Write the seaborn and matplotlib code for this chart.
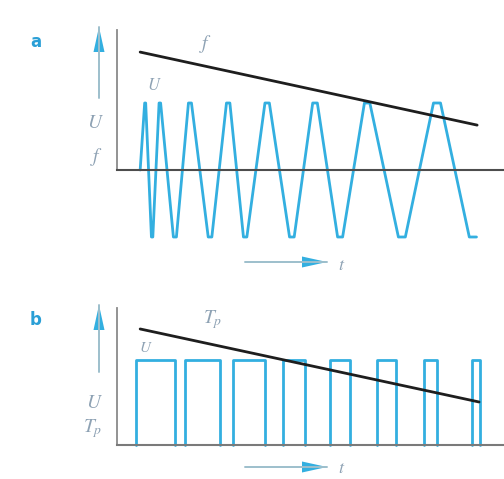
import numpy as np
import pandas as pd
import matplotlib
matplotlib.use("Agg")
import matplotlib.pyplot as plt
import seaborn as sns

sns.set_style("white")
plt.rcParams["mathtext.fontset"] = "stix"

# --- panel a: clipped triangular voltage with falling frequency ---
wave_t = [6.0, 7.3, 9.1, 11.1, 15.0, 18.9, 24.1, 28.8, 33.2, 38.9,
          45.3, 51.3, 57.8, 64.8, 73.8, 82.9, 92.2]
wave_level = [0, 1, -1, 1, -1, 1, -1, 1, -1, 1, -1, 1, -1, 1, -1, 1, -1]
freq_t = [6.0, 93.3]
freq_val = [1.76, 0.67]

# --- panel b: rectangular pulses with shrinking pulse width ---
pulse_start = [4.9, 17.6, 30.1, 43.0, 55.2, 67.4, 79.5, 92.0]
pulse_end = [15.0, 26.7, 38.3, 48.7, 60.4, 72.3, 82.9, 94.0]
tp_t = [6.0, 93.8]
tp_val = [1.365, 0.506]

BLUE = "#33afe0"
LABEL = "#8ea2b4"
W, H = 504, 479

fig = plt.figure(figsize=(W / 100, H / 100), dpi=100)


def add_axes_px(x0, y0, x1, y1):
    return fig.add_axes([x0 / W, 1 - y1 / H, (x1 - x0) / W, (y1 - y0) / H])


# build the clipped triangle with a short plateau at every extreme
PLATEAU = 0.2
pts_t, pts_v = [], []
n = len(wave_t)
for i, (t, v) in enumerate(zip(wave_t, wave_level)):
    if v == 0:
        pts_t.append(t)
        pts_v.append(v)
        continue
    gaps = []
    if i > 0:
        gaps.append(t - wave_t[i - 1])
    if i < n - 1:
        gaps.append(wave_t[i + 1] - t)
    half = PLATEAU * min(gaps) / 2
    pts_t += [t - half, t + half]
    pts_v += [v, v]
wave_df = pd.DataFrame({"t": pts_t, "U": pts_v})
freq_df = pd.DataFrame({"t": freq_t, "f": freq_val})

ax1 = add_axes_px(117, 30, 503, 244)
ax1.set_xlim(0, 100)
ax1.set_ylim(-(244 - 170) / 67, (170 - 30) / 67)
sns.lineplot(data=wave_df, x="t", y="U", ax=ax1, color=BLUE, lw=2.0,
             sort=False, estimator=None)
sns.lineplot(data=freq_df, x="t", y="f", ax=ax1, color="#1e1e1e", lw=2.0,
             sort=False, estimator=None)

# pulses drawn one by one (left edge, top, right edge)
rows = []
for k, (s, e) in enumerate(zip(pulse_start, pulse_end)):
    for t, v in [(s, 0), (s, 1), (e, 1), (e, 0)]:
        rows.append({"pulse": k, "t": t, "U": v})
pulse_df = pd.DataFrame(rows)
tp_df = pd.DataFrame({"t": tp_t, "Tp": tp_val})

ax2 = add_axes_px(117, 308, 503, 450)
ax2.set_xlim(0, 100)
ax2.set_ylim(-(450 - 445) / 85, (445 - 308) / 85)
sns.lineplot(data=pulse_df, x="t", y="U", units="pulse", ax=ax2, color=BLUE,
             lw=2.0, sort=False, estimator=None)
sns.lineplot(data=tp_df, x="t", y="Tp", ax=ax2, color="#1e1e1e", lw=2.0,
             sort=False, estimator=None)

for ax, top, base_col in [(ax1, (170 - 30) / 67, "#4d4d4d"),
                          (ax2, (445 - 308) / 85, "#7a7a7a")]:
    for side in ["top", "right"]:
        ax.spines[side].set_visible(False)
    ax.spines["left"].set_bounds(0, top)
    ax.spines["left"].set_color("#8a8a8a")
    ax.spines["left"].set_linewidth(1.3)
    ax.spines["bottom"].set_position(("data", 0))
    ax.spines["bottom"].set_color(base_col)
    ax.spines["bottom"].set_linewidth(1.5)
    ax.set_xticks([])
    ax.set_yticks([])
    ax.set_xlabel("")
    ax.set_ylabel("")
    ax.patch.set_alpha(0)


def fig_text(x, y, s, **kw):
    fig.text(x / W, 1 - y / H, s, ha="center", va="center", **kw)


def fig_arrow(x0, y0, x1, y1, shaft="#9dbfcc"):
    # pale shaft with a solid blue head
    fig.add_artist(matplotlib.lines.Line2D(
        [x0 / W, x1 / W], [1 - y0 / H, 1 - y1 / H], transform=fig.transFigure,
        color=shaft, lw=1.4))
    fig.add_artist(matplotlib.patches.FancyArrowPatch(
        (x0 / W, 1 - y0 / H), (x1 / W, 1 - y1 / H), transform=fig.transFigure,
        arrowstyle="-|>,head_length=1.0,head_width=0.22", mutation_scale=18,
        color=BLUE, lw=0, shrinkA=0, shrinkB=0))


# panel letters
fig_text(36, 42, "a", color="#2a9fd6", fontsize=12, fontweight="bold")
fig_text(36, 320, "b", color="#2a9fd6", fontsize=12, fontweight="bold")

# axis direction arrows
fig_arrow(99, 98, 99, 27)
fig_arrow(99, 372, 99, 305)
fig_arrow(245, 262, 327, 262)
fig_arrow(245, 467, 327, 467)

# axis quantity labels
fig_text(95, 122, r"$U$", color=LABEL, fontsize=14)
fig_text(97, 157, r"$f$", color=LABEL, fontsize=14)
fig_text(94, 403, r"$U$", color=LABEL, fontsize=14)
fig_text(93, 429, r"$T_p$", color=LABEL, fontsize=14)
fig_text(342, 265, r"$t$", color=LABEL, fontsize=13)
fig_text(342, 468, r"$t$", color=LABEL, fontsize=13)

# curve labels
fig_text(154, 85, r"$U$", color=LABEL, fontsize=12)
fig_text(206, 44, r"$f$", color=LABEL, fontsize=14)
fig_text(146, 347, r"$U$", color=LABEL, fontsize=11)
fig_text(213, 320, r"$T_p$", color=LABEL, fontsize=14)

fig.savefig("out.png", dpi=100, facecolor="white")
